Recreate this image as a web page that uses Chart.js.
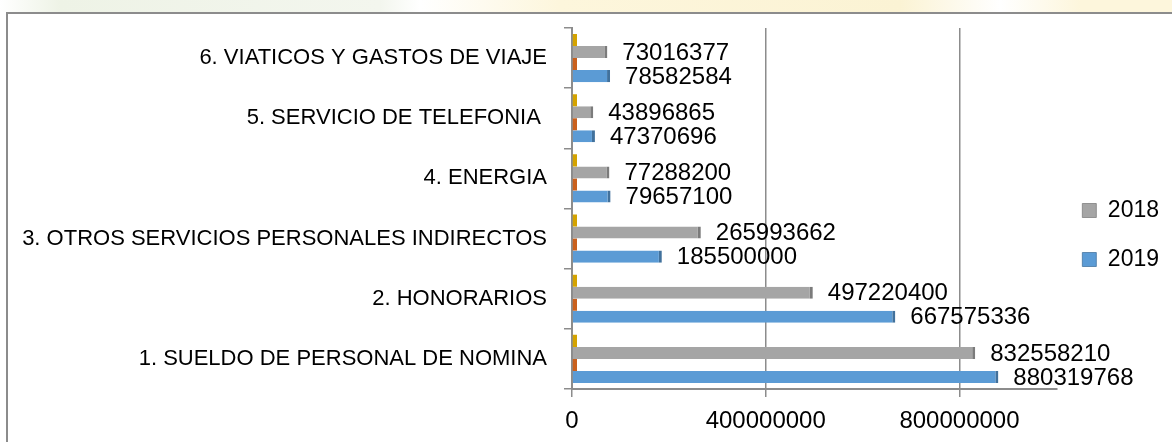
<!DOCTYPE html>
<html>
<head>
<meta charset="utf-8">
<script src="https://cdn.jsdelivr.net/npm/chart.js@4/dist/chart.umd.min.js"></script>
<style>
    body { margin: 0; background: #fff; width: 1172px; height: 442px; overflow: hidden; position: relative; }
    /* faint watermark strip above the frame */
    #strip { position: absolute; left: 0; top: 0; width: 1172px; height: 12px;
        background: linear-gradient(90deg, #fff 0px, #eef3e6 60px, #f3f6ee 380px, #fff 420px, #fdf6dc 560px, #fbf3d4 900px, #fff 1000px, #fdf6dc 1080px); }
    #frame { position: absolute; left: 6px; top: 12px; width: 1200px; height: 460px; border: 2px solid #8c8c8c; background: #fff; }
    #wrap { position: absolute; left: 7px; top: 13px; width: 1165px; height: 429px; }
</style>
</head>
<body>
<div id="strip"></div>
<div id="frame"></div>
<div id="wrap"><canvas id="budgetChart"></canvas></div>
<script>
// Categories listed top to bottom as they appear
const categories = [
    '6. VIATICOS Y GASTOS DE VIAJE',
    '5. SERVICIO DE TELEFONIA ',
    '4. ENERGIA',
    '3. OTROS SERVICIOS PERSONALES INDIRECTOS',
    '2. HONORARIOS',
    '1. SUELDO DE PERSONAL DE NOMINA'
];
const values2018 = [73016377, 43896865, 77288200, 265993662, 497220400, 832558210];
const values2019 = [78582584, 47370696, 79657100, 185500000, 667575336, 880319768];
// two empty series that only show as slivers at zero
const emptyA = [0, 0, 0, 0, 0, 0];
const emptyB = [0, 0, 0, 0, 0, 0];
const xTicks = [0, 400000000, 800000000];

const fontName = '"Liberation Sans", Arial, sans-serif';

// Draw the value next to each bar of the real series
const valueLabels = {
    id: 'valueLabels',
    afterDatasetsDraw(chart) {
        const c = chart.ctx;
        c.save();
        c.font = '24px ' + fontName;
        c.fillStyle = '#000';
        c.textBaseline = 'middle';
        c.textAlign = 'left';
        chart.data.datasets.forEach((ds, i) => {
            if (!ds.showValues) return;
            chart.getDatasetMeta(i).data.forEach((bar, j) => {
                c.fillText(String(ds.data[j]), bar.x + 15, bar.y + 1);
            });
        });
        c.restore();
    }
};

const ctx = document.getElementById('budgetChart').getContext('2d');
const budgetChart = new Chart(ctx, {
    type: 'bar',
    data: {
        labels: categories,
        datasets: [
            {
                label: 'S4',
                data: emptyA,
                backgroundColor: '#d4a300',
                borderWidth: 0,
                minBarLength: 5
            },
            {
                label: '2018',
                data: values2018,
                backgroundColor: '#A5A5A5',
                borderColor: '#7b7b7b',
                borderWidth: { top: 0, right: 3, bottom: 0, left: 0 },
                showValues: true
            },
            {
                label: 'S3',
                data: emptyB,
                backgroundColor: '#c9601d',
                borderWidth: 0,
                minBarLength: 5
            },
            {
                label: '2019',
                data: values2019,
                backgroundColor: '#5B9BD5',
                borderColor: '#41719c',
                borderWidth: { top: 0, right: 3, bottom: 0, left: 0 },
                showValues: true
            }
        ]
    },
    options: {
        indexAxis: 'y',
        responsive: true,
        maintainAspectRatio: false,
        animation: false,
        categoryPercentage: 0.8,
        barPercentage: 1.0,
        layout: {
            padding: { top: 15, right: 3, left: 0, bottom: 0 }
        },
        plugins: {
            tooltip: { enabled: false },
            legend: {
                position: 'right',
                // keep only the two real years
                labels: {
                    filter: item => item.text === '2018' || item.text === '2019',
                    boxWidth: 14,
                    boxHeight: 14,
                    padding: 26,
                    color: '#000',
                    font: { family: fontName, size: 23 }
                }
            }
        },
        scales: {
            x: {
                min: 0,
                max: 1000000000,
                afterBuildTicks: axis => {
                    axis.ticks = xTicks.concat([1000000000]).map(v => ({ value: v }));
                },
                afterFit: axis => { axis.height = 53; },
                ticks: {
                    padding: 10,
                    color: '#000',
                    font: { family: fontName, size: 24 },
                    maxRotation: 0,
                    callback: v => (xTicks.includes(v) ? String(v) : '')
                },
                grid: {
                    color: c => (c.tick && c.tick.value === 1000000000 ? 'rgba(0,0,0,0)' : '#8c8c8c'),
                    lineWidth: 1.5,
                    tickLength: 8
                },
                border: { display: true, color: '#8c8c8c', width: 2 }
            },
            y: {
                afterFit: axis => {
                    axis.width = 565;
                    // no extra room above/below for half label heights
                    axis.paddingTop = 0;
                    axis.paddingBottom = 0;
                },
                ticks: {
                    padding: 17,
                    color: '#000',
                    font: { family: fontName, size: 22 }
                },
                grid: {
                    offset: true,
                    drawOnChartArea: false,
                    color: '#8c8c8c',
                    lineWidth: 1.5,
                    tickLength: 8
                },
                border: { display: true, color: '#8c8c8c', width: 2 }
            }
        }
    },
    plugins: [valueLabels]
});
</script>
</body>
</html>
